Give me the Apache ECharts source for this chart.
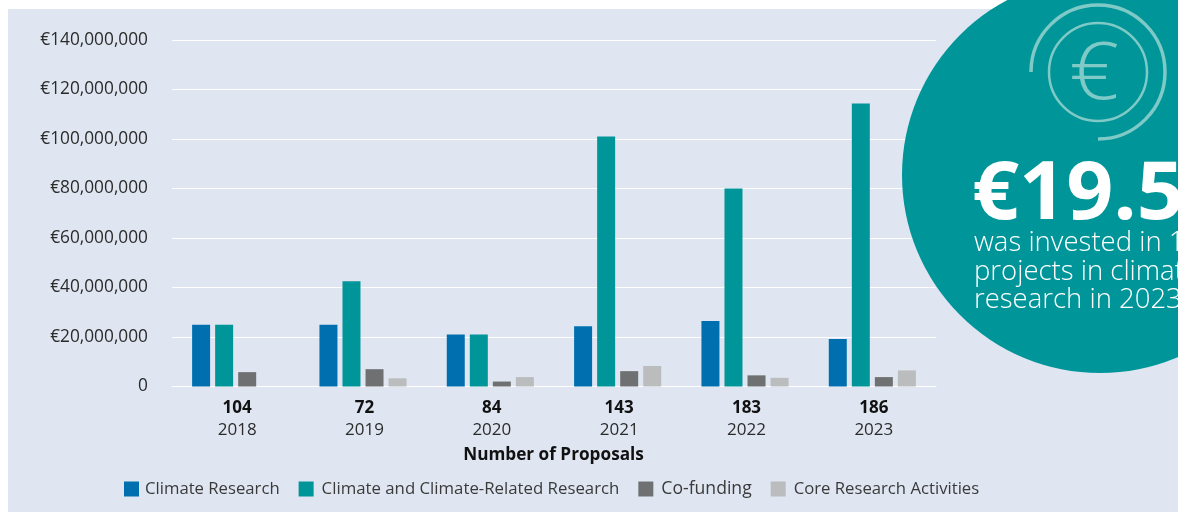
<!DOCTYPE html>
<html><head><meta charset="utf-8">
<style>html,body{margin:0;padding:0;background:#fff}#c{width:1178px;height:512px}</style>
<script src="https://cdn.jsdelivr.net/npm/echarts@6/dist/echarts.min.js"></script>
</head><body><div id="c"></div>
<script>
const years = ['2018','2019','2020','2021','2022','2023'];
const proposals = [104,72,84,143,183,186];
const climateResearch = [25000000,25000000,21000000,24300000,26500000,19200000];
const climateRelated = [25000000,42500000,21000000,101000000,80000000,114300000];
const coFunding = [5800000,7000000,2000000,6200000,4500000,3800000];
const coreResearch = [0,3300000,3800000,8300000,3500000,6500000];
const FONT = '"Open Sans","Noto Sans",sans-serif';
const INK = '#2b2b2b';
const ICON = '#7fcac7';
const chart = echarts.init(document.getElementById('c'), null, {renderer:'canvas'});
function mk(name,data,color){return {name,type:'bar',data,barWidth:18,barGap:'28%',itemStyle:{color},z:2};}
function li(name,fontSize,left){return {name,textStyle:{fontFamily:FONT,fontSize,color:'#3a3a3a',padding:[0,0,0,left]}};}
chart.setOption({
  backgroundColor:'#ffffff',
  animation:false,
  textStyle:{fontFamily:FONT},
  grid:{left:172,right:242,top:40,height:346.5,containLabel:false},
  legend:{left:124,top:480,padding:0,itemWidth:15,itemHeight:15,itemGap:19,icon:'rect',
    data:[li('Climate Research',16.7,1),li('Climate and Climate-Related Research',16.8,3),li('Co-funding',17.6,3),li('Core Research Activities',16.7,3)]},
  xAxis:{type:'category',data:years.map((y,i)=>proposals[i]+'\n'+y),
    axisLine:{lineStyle:{color:'#ffffff',width:1}},axisTick:{show:false},
    axisLabel:{margin:11,interval:0,padding:[0,0,0,3],formatter:v=>{const p=v.split('\n');return '{a|'+p[0]+'}\n{b|'+p[1]+'}';},
      rich:{a:{fontFamily:FONT,fontSize:17,fontWeight:700,color:'#111',lineHeight:22},
            b:{fontFamily:FONT,fontSize:17,color:INK,lineHeight:22}}},
    name:'Number of Proposals',nameLocation:'middle',nameGap:60,
    nameTextStyle:{fontFamily:FONT,fontSize:17.2,fontWeight:700,color:'#111',padding:[0,0,0,-1]}},
  yAxis:{type:'value',min:0,max:140000000,interval:20000000,
    axisLine:{show:false},axisTick:{show:false},
    splitLine:{lineStyle:{color:'#ffffff',width:1}},
    axisLabel:{margin:24,fontFamily:FONT,fontSize:17.3,color:INK,padding:[0,0,6,0],
      formatter:v=>v===0?'0':'€'+v.toLocaleString('en-US')}},
  series:[mk('Climate Research',climateResearch,'#006fb0'),
          mk('Climate and Climate-Related Research',climateRelated,'#009599'),
          mk('Co-funding',coFunding,'#6f7072'),
          mk('Core Research Activities',coreResearch,'#bbbcbd')],
  graphic:[
    {type:'rect',z:-10,silent:true,shape:{x:8,y:9,width:1170,height:503},style:{fill:'#dfe6f1'}},
    {type:'circle',z:50,silent:true,shape:{cx:1100,cy:175,r:198},style:{fill:'#009599'}},
    {type:'arc',z:51,silent:true,shape:{cx:1098,cy:72,r:49,startAngle:0,endAngle:Math.PI*2},style:{stroke:ICON,lineWidth:2.5,fill:null}},
    {type:'arc',z:51,silent:true,shape:{cx:1098,cy:72,r:67,startAngle:Math.PI,endAngle:Math.PI/2,clockwise:true},style:{stroke:ICON,lineWidth:3.5,fill:null}},
    {type:'text',z:51,silent:true,x:1094,y:76,scaleX:1.1,style:{x:0,y:0,text:'€',font:'300 80px '+FONT,fill:ICON,align:'center',verticalAlign:'middle'}},
    {type:'text',z:52,silent:true,x:972,y:196,scaleX:1.03,style:{x:0,y:0,text:'€19.5',font:'700 80px '+FONT,fill:'#ffffff',align:'left',verticalAlign:'middle'}},
    {type:'text',z:52,silent:true,style:{x:974,y:243,text:'was invested in 1',font:'300 27.5px '+FONT,fill:'#ffffff',verticalAlign:'middle'}},
    {type:'text',z:52,silent:true,style:{x:974,y:272,text:'projects in climat',font:'300 27.5px '+FONT,fill:'#ffffff',verticalAlign:'middle'}},
    {type:'text',z:52,silent:true,style:{x:974,y:300,text:'research in 2023',font:'300 27.5px '+FONT,fill:'#ffffff',verticalAlign:'middle'}}
  ]
});
</script></body></html>
